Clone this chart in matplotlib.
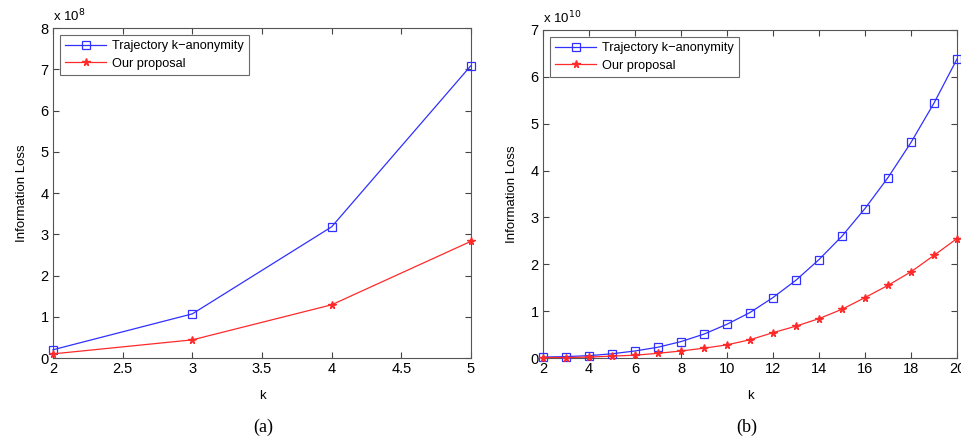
import matplotlib
matplotlib.use("Agg")
import matplotlib.pyplot as plt
from matplotlib.ticker import FuncFormatter

plt.rcParams['font.family'] = ['Liberation Sans', 'DejaVu Sans']

# (a) k = 2..5, information loss (x 1e8)
k_a = [2, 3, 4, 5]
traj_a = [0.20e8, 1.07e8, 3.18e8, 7.09e8]
ours_a = [0.10e8, 0.44e8, 1.29e8, 2.83e8]

# (b) k = 2..20, information loss (x 1e10)
k_b = list(range(2, 21))
traj_b = [0.02, 0.03, 0.05, 0.09, 0.15, 0.23, 0.35, 0.51, 0.72, 0.97,
          1.29, 1.66, 2.10, 2.60, 3.19, 3.85, 4.60, 5.44, 6.38]
traj_b = [v * 1e10 for v in traj_b]
ours_b = [0.01, 0.01, 0.02, 0.04, 0.06, 0.10, 0.15, 0.21, 0.28, 0.39,
          0.54, 0.68, 0.84, 1.04, 1.29, 1.55, 1.84, 2.19, 2.55]
ours_b = [v * 1e10 for v in ours_b]

labels = ["Trajectory k\u2212anonymity", "Our proposal"]

fig = plt.figure(figsize=(9.62, 4.41), dpi=100)
ax1 = fig.add_axes([0.0551, 0.1882, 0.4345, 0.7483])
ax2 = fig.add_axes([0.5644, 0.1882, 0.4304, 0.7438])

def style(ax, k, t, o, scale, exp, xticks, ylim, caption, cx):
    ax.plot(k, t, color='#3030ff', lw=0.9, marker='s', ms=6.2, mfc='none',
            mec='#3030ff', mew=0.9, label=labels[0], clip_on=False, zorder=3)
    ax.plot(k, o, color='#ff2a2a', lw=0.9, marker='*', ms=5.5, mfc='#ff2a2a',
            mec='#ff2a2a', label=labels[1], clip_on=False, zorder=3)
    ax.set_xlim(k[0], k[-1])
    ax.set_xticks(xticks)
    ax.set_ylim(0, ylim * scale)
    ax.set_yticks([i * scale for i in range(ylim + 1)])
    ax.yaxis.set_major_formatter(FuncFormatter(lambda v, p: "%g" % round(v / scale, 6)))
    ax.xaxis.set_major_formatter(FuncFormatter(lambda v, p: "%g" % v))
    ax.tick_params(direction='in', top=True, right=True, length=4, width=0.8,
                   labelsize=10.5, colors='#444444', labelcolor='black', pad=3)
    for s in ax.spines.values():
        s.set_color('#555555')
        s.set_linewidth(0.8)
    ax.set_xlabel("k", fontsize=9.5, labelpad=10)
    ax.set_ylabel("Information Loss", fontsize=9.5, labelpad=9)
    ax.text(0.0, 1.012, "x 10$^{%d}$" % exp, transform=ax.transAxes, fontsize=9.5,
            ha='left', va='bottom')
    leg = ax.legend(loc='upper left', fontsize=9.2, frameon=True, fancybox=False,
                    handlelength=3.2, borderpad=0.4, labelspacing=0.45,
                    borderaxespad=0.55, handletextpad=0.5)
    leg.get_frame().set_edgecolor('#444444')
    leg.get_frame().set_linewidth(0.8)
    fig.text(cx, 0.032, caption, fontsize=13, family=['Liberation Serif'],
             ha='center', va='center')

style(ax1, k_a, traj_a, ours_a, 1e8, 8, [2, 2.5, 3, 3.5, 4, 4.5, 5], 8, "(a)", 263 / 962)
style(ax2, k_b, traj_b, ours_b, 1e10, 10, list(range(2, 21, 2)), 7, "(b)", 747 / 962)

fig.savefig("out.png", dpi=100)
